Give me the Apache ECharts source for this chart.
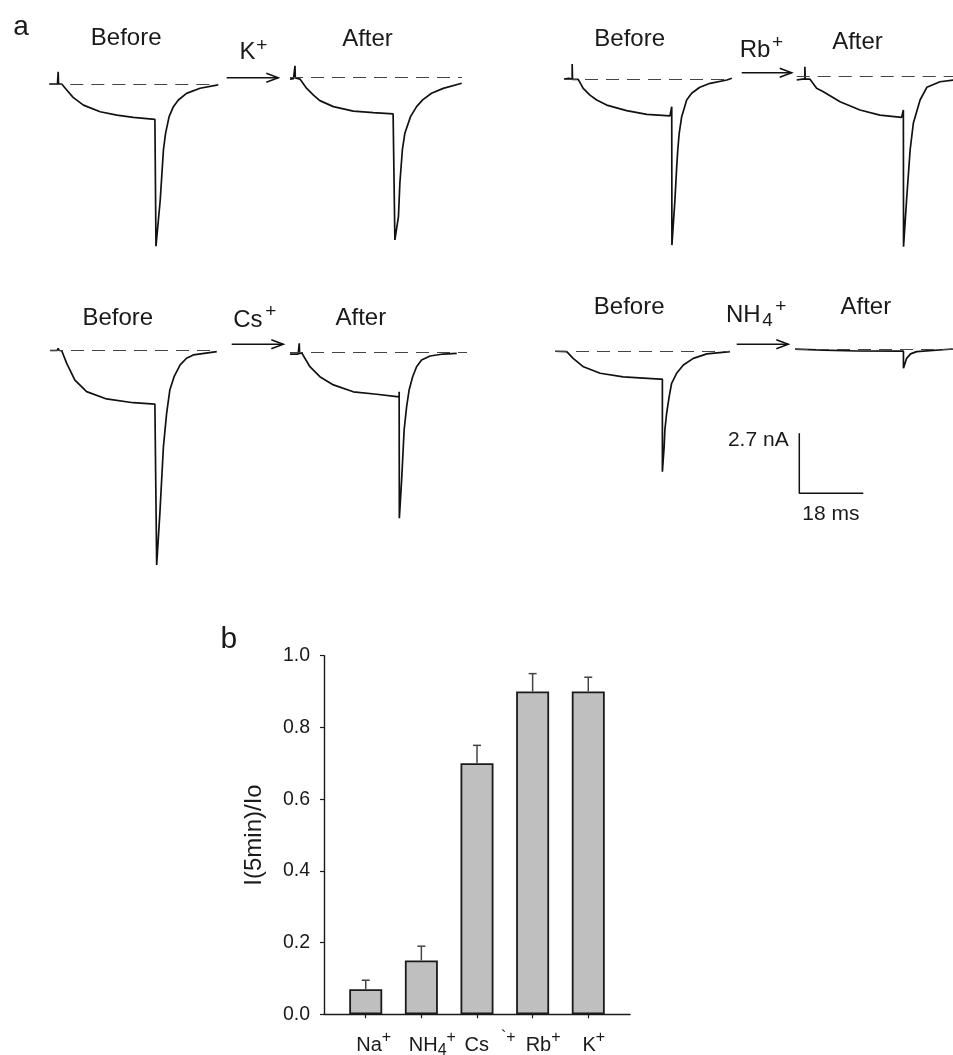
<!DOCTYPE html>
<html><head><meta charset="utf-8">
<script src="https://cdn.jsdelivr.net/npm/echarts@6/dist/echarts.min.js"></script>
<style>html,body{margin:0;padding:0;background:#fff}#c{width:953px;height:1055px}</style>
</head><body><div id="c"></div>
<script>
// ---------- Panel a data: [time (ms), current (nA)] ----------
const kBefore = [[0,0],[2.3,0],[2.5,0.55],[2.6,0],[3.5,0],[4.9,-0.27],[6.7,-0.6],[9.6,-0.95],[14.3,-1.25],[19.0,-1.4],[23.6,-1.5],[29.7,-1.59],[30.0,-1.59],[30.0,-7.3],[30.4,-7.3],[31.2,-5.22],[31.8,-3.72],[32.1,-2.97],[32.7,-2.22],[33.7,-1.47],[34.9,-1.02],[36.3,-0.72],[38.6,-0.42],[42.4,-0.19],[47.1,-0.05],[47.5,-0.02]];
const kAfter = [[0,-0.07],[1.0,-0.05],[1.4,-0.02],[1.4,0.53],[1.5,-0.02],[2.8,-0.07],[4.7,-0.49],[6.6,-0.79],[8.4,-1.04],[12.2,-1.31],[17.8,-1.51],[23.4,-1.58],[29.0,-1.64],[29.5,-1.66],[29.5,-7.31],[30.0,-7.31],[30.5,-6.26],[30.9,-4.76],[31.6,-3.26],[32.3,-2.51],[33.9,-1.76],[35.6,-1.31],[37.3,-1.01],[39.8,-0.71],[43.1,-0.49],[48.3,-0.26]];
const rbBefore = [[0,0.01],[1.4,0.04],[2.3,0],[2.3,0.69],[2.4,0],[4.0,0],[5.4,-0.41],[7.3,-0.71],[9.2,-0.93],[12.0,-1.16],[17.6,-1.41],[23.3,-1.58],[29.8,-1.65],[30.3,-1.65],[30.3,-1.23],[30.35,-7.46],[31.2,-5.43],[31.7,-3.93],[32.0,-3.18],[32.4,-2.43],[33.1,-1.68],[34.5,-0.93],[35.9,-0.63],[38.2,-0.36],[41.1,-0.18],[45.8,-0.03],[47.2,0.05]];
const rbAfter = [[0,-0.18],[1.5,-0.14],[2.3,-0.14],[2.3,0.42],[2.4,-0.14],[3.7,-0.14],[5.6,-0.55],[7.5,-0.71],[12.2,-1.16],[17.8,-1.53],[23.4,-1.76],[29.5,-1.86],[30.0,-1.86],[30.0,-1.53],[30.05,-7.68],[30.9,-5.58],[31.9,-3.33],[32.8,-2.13],[34.7,-1.08],[36.6,-0.51],[40.3,-0.26],[44.0,-0.18]];
const csBefore = [[0,0],[2.0,0],[2.3,0.1],[2.6,0],[3.3,-0.01],[4.7,-0.58],[7.0,-1.33],[10.3,-1.85],[15.9,-2.18],[23.4,-2.35],[29.5,-2.41],[30.0,-2.41],[30.0,-9.65],[30.2,-9.65],[30.9,-7.33],[31.4,-5.83],[31.9,-4.33],[32.8,-2.83],[33.7,-1.78],[34.9,-1.18],[36.6,-0.65],[38.4,-0.35],[40.3,-0.2],[46.9,-0.05]];
const csAfter = [[0,-0.06],[2.3,-0.06],[2.6,-0.04],[2.6,0.42],[2.7,-0.04],[3.3,-0.01],[5.6,-0.63],[8.4,-1.08],[12.2,-1.45],[17.8,-1.76],[24.4,-1.87],[30.0,-1.98],[30.7,-1.98],[30.7,-1.76],[30.75,-7.45],[31.4,-5.73],[32.1,-3.48],[32.8,-2.43],[33.5,-1.68],[34.5,-1.08],[35.6,-0.63],[37.0,-0.33],[39.4,-0.15],[43.1,-0.06],[46.9,-0.03]];
const nh4Before = [[0,0.02],[3.3,0],[5.1,-0.3],[8.0,-0.68],[12.7,-0.97],[19.2,-1.13],[29.5,-1.23],[30.2,-1.23],[30.2,-5.4],[30.3,-5.4],[30.7,-4.28],[30.9,-3.52],[31.4,-2.77],[32.1,-2.03],[32.8,-1.42],[34.2,-0.97],[36.1,-0.6],[38.9,-0.3],[42.7,-0.1],[49.2,0]];
const nh4After = [[0,-0.01],[8.0,-0.05],[17.4,-0.09],[29.5,-0.1],[30.5,-0.1],[30.5,-0.87],[31.4,-0.42],[32.5,-0.22],[34.2,-0.12],[44.4,0]];
const scaleCurrent = 2.7; // nA
const scaleTime = 18;     // ms

// ---------- Panel b data ----------
const ionBase = ['Na','NH','Cs','Rb','K'];
const ionSub  = ['','4','','',''];
const ionSup  = ['+','+','`+','+','+'];
const ratioMean  = [0.07, 0.15, 0.70, 0.90, 0.90];
const ratioUpper = [0.095, 0.19, 0.75, 0.95, 0.94];
const yTicks = [0.0, 0.2, 0.4, 0.6, 0.8, 1.0];
const yTitle = 'I(5min)/Io';

// ---------- Layout ----------
const FONT = '"Liberation Sans", Arial, Helvetica, sans-serif';
const INK = '#1a1a1a';
const PX_MS = 64 / scaleTime, PX_NA = 60 / scaleCurrent;
const Y_MIN = -10, Y_MAX = 1;
const traces = [
  {data:kBefore,   left:49.3,  base:84,    dur:47.5},
  {data:kAfter,    left:290,   base:77.5,  dur:48.4},
  {data:rbBefore,  left:564,   base:79.3,  dur:47.2},
  {data:rbAfter,   left:796.7, base:76,    dur:44.0},
  {data:csBefore,  left:50,    base:350.5, dur:47.0},
  {data:csAfter,   left:290,   base:352.7, dur:49.8},
  {data:nh4Before, left:555,   base:351.7, dur:49.2},
  {data:nh4After,  left:795,   base:349,   dur:44.4}
];
const labelPad = [16, 22, 26, 21, 11];
const labelGap = [0, 0, 12, 0, 0];

const grid = [], xAxis = [], yAxis = [], series = [];
traces.forEach((t, i) => {
  grid.push({left:t.left, top:t.base - Y_MAX*PX_NA, width:t.dur*PX_MS, height:(Y_MAX-Y_MIN)*PX_NA, containLabel:false, outerBoundsMode:'none'});
  xAxis.push({type:'value', gridIndex:i, min:0, max:t.dur, show:false});
  yAxis.push({type:'value', gridIndex:i, min:Y_MIN, max:Y_MAX, show:false});
  series.push({type:'line', xAxisIndex:i, yAxisIndex:i, data:t.data, symbol:'none', showSymbol:false, clip:false,
    lineStyle:{color:'#111', width:1.7}, animation:false, silent:true,
    markLine:{symbol:['none','none'], silent:true, animation:false, label:{show:false},
      lineStyle:{type:[13,8], color:'#444', width:1.1}, data:[{yAxis:0}]}});
});
// scale bar
const si = traces.length;
grid.push({left:799.3, top:493.3 - scaleCurrent*PX_NA, width:scaleTime*PX_MS, height:scaleCurrent*PX_NA, outerBoundsMode:'none'});
xAxis.push({type:'value', gridIndex:si, min:0, max:scaleTime, show:false});
yAxis.push({type:'value', gridIndex:si, min:0, max:scaleCurrent, show:false});
series.push({type:'line', xAxisIndex:si, yAxisIndex:si, data:[[0,scaleCurrent],[0,0],[scaleTime,0]], symbol:'none', clip:false,
  lineStyle:{color:'#111', width:1.5}, animation:false, silent:true});

// bar chart
const bi = si + 1;
grid.push({left:324, top:655.7, right:323, bottom:40.7, containLabel:false, outerBoundsMode:'none'});
xAxis.push({type:'value', gridIndex:bi, min:0.25, max:5.75,
  axisLine:{show:true, lineStyle:{color:INK, width:1.4}},
  axisTick:{show:true, inside:false, length:4, lineStyle:{color:INK, width:1.2}, customValues:[1,2,3,4,5]},
  splitLine:{show:false},
  axisLabel:{show:true, customValues:[1,2,3,4,5], margin:15, color:INK, fontFamily:FONT,
    formatter:(v)=>{const i=Math.round(v)-1; if(i<0||i>4) return '';
      let s='{pad'+i+'|}{m|'+ionBase[i]+'}';
      if(ionSub[i]) s+='{sub|'+ionSub[i]+'}';
      if(labelGap[i]) s+='{gap|}';
      s+='{sup|'+ionSup[i]+'}';
      return s;},
    rich:Object.assign({
      m:{fontSize:20, fontFamily:FONT, color:INK, padding:[6.5,0,0,0], verticalAlign:'top'},
      sub:{fontSize:16, fontFamily:FONT, color:INK, padding:[13,0,0,0], verticalAlign:'top'},
      sup:{fontSize:16, fontFamily:FONT, color:INK, verticalAlign:'top'},
      gap:{width:12}
    }, Object.fromEntries(labelPad.map((w,i)=>['pad'+i,{width:w}])))
  }});
yAxis.push({type:'value', gridIndex:bi, min:yTicks[0], max:yTicks[yTicks.length-1], interval:yTicks[1]-yTicks[0],
  name:yTitle, nameLocation:'middle', nameRotate:90, nameGap:58,
  nameTextStyle:{fontSize:24, fontFamily:FONT, color:INK},
  axisLine:{show:true, lineStyle:{color:INK, width:1.4}},
  axisTick:{show:true, inside:false, length:4, lineStyle:{color:INK, width:1.2}},
  splitLine:{show:false},
  axisLabel:{margin:14, fontSize:19.5, fontFamily:FONT, color:INK, formatter:(v)=>v.toFixed(1)}});
series.push({type:'bar', xAxisIndex:bi, yAxisIndex:bi, barWidth:33, animation:false,
  data:ratioMean.map((v,i)=>[i+1, v]),
  itemStyle:{color:'#bfbfbf', borderColor:'#1a1a1a', borderWidth:1.8}});
series.push({type:'custom', xAxisIndex:bi, yAxisIndex:bi, animation:false, z:5,
  data:ratioMean.map((v,i)=>[i+1, v, ratioUpper[i]]),
  encode:{x:0, y:[1,2]},
  renderItem:(params, api)=>{
    const x=api.value(0), v=api.value(1), u=api.value(2);
    const p0=api.coord([x,v]), p1=api.coord([x,u]);
    const st={stroke:'#444', lineWidth:1.5};
    return {type:'group', children:[
      {type:'line', shape:{x1:p0[0], y1:p0[1], x2:p1[0], y2:p1[1]}, style:st},
      {type:'line', shape:{x1:p1[0]-4, y1:p1[1], x2:p1[0]+4, y2:p1[1]}, style:st}
    ]};
  }});

// ---------- Annotations ----------
function txt(s, x, y, fs){
  return {type:'text', x:x, y:y, silent:true, z:10,
    style:{text:s, fontSize:fs, fontFamily:FONT, fill:INK, align:'center', verticalAlign:'middle', textAlign:'center', textVerticalAlign:'middle'}};
}
function arrow(x1, x2, y){
  return [
    {type:'line', shape:{x1:x1, y1:y, x2:x2, y2:y}, style:{stroke:'#111', lineWidth:1.5}, silent:true},
    {type:'polyline', shape:{points:[[x2-12,y-4.5],[x2,y],[x2-12,y+4.5]]}, style:{stroke:'#111', lineWidth:1.5, fill:null}, silent:true}
  ];
}
const graphic = [
  txt('a', 21, 27.5, 28),
  txt('b', 228.8, 640, 30),
  txt('Before', 126.2, 38.3, 24), txt('After', 367.5, 39, 24), txt('K', 247.5, 52.5, 24), txt('+', 261.7, 46, 19),
  txt('Before', 629.7, 39, 24), txt('After', 857.5, 42.8, 24), txt('Rb', 755, 50, 24), txt('+', 777.5, 43, 19),
  txt('Before', 117.8, 318.3, 24), txt('After', 360.8, 318.3, 24), txt('Cs', 247.8, 320.8, 24), txt('+', 270.8, 311.5, 19),
  txt('Before', 629.2, 307.5, 24), txt('After', 865.8, 307.5, 24), txt('NH', 743.3, 315.8, 24), txt('4', 767.5, 321, 19), txt('+', 780.8, 306.5, 19),
  txt(scaleCurrent + ' nA', 758.3, 440, 21),
  txt(scaleTime + ' ms', 830.8, 514, 21),
  ...arrow(226.7, 278.3, 77.7),
  ...arrow(741.7, 791.7, 72.7),
  ...arrow(231.7, 283.3, 344.3),
  ...arrow(736.7, 788.3, 344.3)
];

const chart = echarts.init(document.getElementById('c'), null, {renderer:'canvas'});
chart.setOption({
  backgroundColor:'#fff', animation:false,
  textStyle:{fontFamily:FONT},
  grid, xAxis, yAxis, series, graphic
});
</script>
</body></html>
